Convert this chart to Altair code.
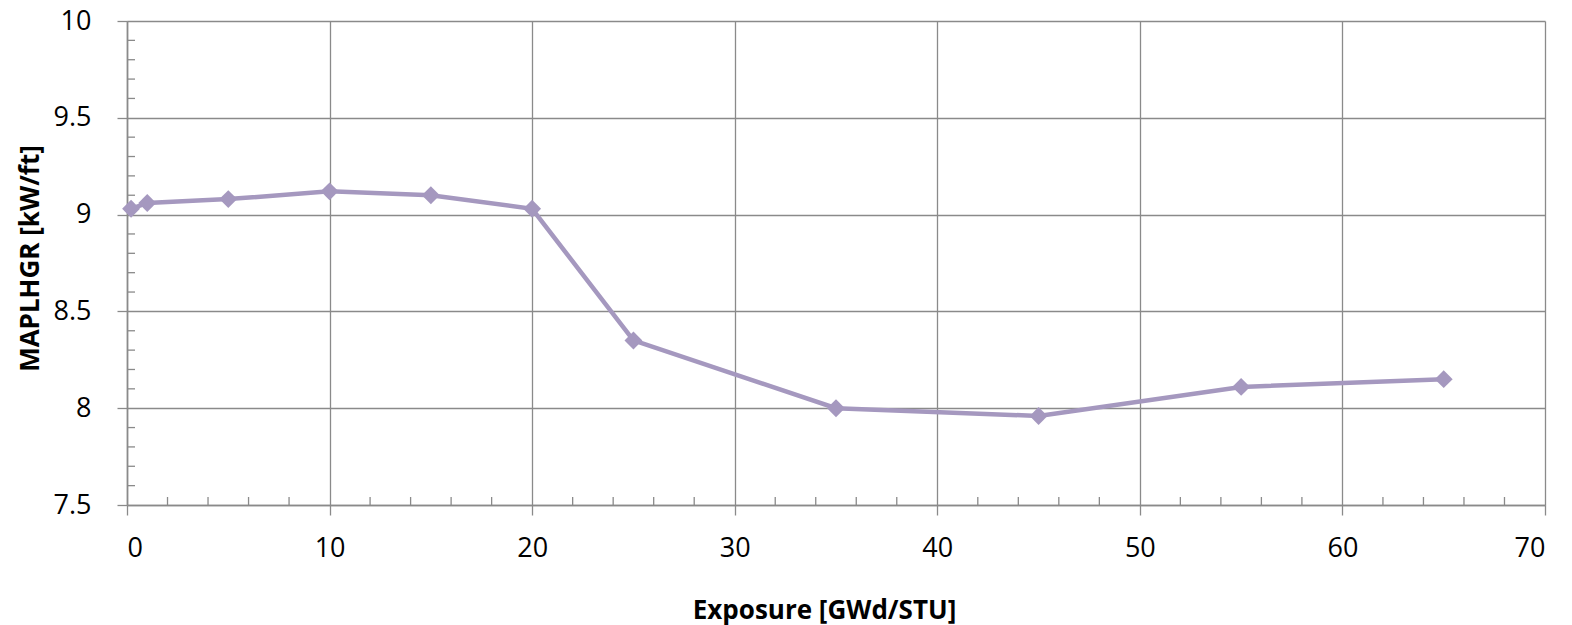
import altair as alt
import pandas as pd

# Data
exposure = [0.2, 1, 5, 10, 15, 20, 25, 35, 45, 55, 65]
maplhgr = [9.03, 9.06, 9.08, 9.12, 9.10, 9.03, 8.35, 8.00, 7.96, 8.11, 8.15]

x_major = [0, 10, 20, 30, 40, 50, 60, 70]
y_major = [7.5, 8, 8.5, 9, 9.5, 10]
x_minor = [2, 4, 6, 8, 12, 14, 16, 18, 22, 24, 26, 28, 32, 34, 36, 38,
           42, 44, 46, 48, 52, 54, 56, 58, 62, 64, 66, 68]
y_minor = [7.6, 7.7, 7.8, 7.9, 8.1, 8.2, 8.3, 8.4, 8.6, 8.7, 8.8, 8.9,
           9.1, 9.2, 9.3, 9.4, 9.6, 9.7, 9.8, 9.9]

W, H = 1418, 484
GRID = "#8a8a8a"
LINE = "#a598bf"
FONT = "Open Sans"

df = pd.DataFrame({"x": exposure, "y": maplhgr})
dfx = pd.DataFrame({"x": x_minor})
dfy = pd.DataFrame({"y": y_minor})

X = alt.X(
    "x:Q",
    scale=alt.Scale(domain=[0, 70], nice=False, zero=False),
    axis=alt.Axis(
        values=x_major, title="Exposure [GWd/STU]", format="d",
        grid=True, gridColor=GRID, gridWidth=1.3,
        domainColor=GRID, domainWidth=1.6,
        tickColor=GRID, tickWidth=1.3, tickSize=10,
        labelFont=FONT, labelFontSize=27, labelColor="black", labelPadding=20,
        titleFont=FONT, titleFontSize=26, titleFontWeight="bold", titleColor="black",
        titleX=697, titleY=105, titleBaseline="middle", titleAlign="center",
    ),
)
Y = alt.Y(
    "y:Q",
    scale=alt.Scale(domain=[7.5, 10], nice=False, zero=False),
    axis=alt.Axis(
        values=y_major, title="MAPLHGR [kW/ft]", format="~g",
        grid=True, gridColor=GRID, gridWidth=1.3,
        domainColor=GRID, domainWidth=1.6,
        tickColor=GRID, tickWidth=1.3, tickSize=10,
        labelFont=FONT, labelFontSize=27, labelColor="black", labelPadding=26,
        titleFont=FONT, titleFontSize=26, titleFontWeight="bold", titleColor="black",
        titleX=-97, titleY=237, titleBaseline="middle", titleAlign="center",
        titleAngle=270,
    ),
)

xminor = alt.Chart(dfx).mark_rule(color=GRID, strokeWidth=1.3).encode(
    x=X, y=alt.value(H - 8), y2=alt.value(H)
)
yminor = alt.Chart(dfy).mark_rule(color=GRID, strokeWidth=1.3).encode(
    y=Y, x=alt.value(0), x2=alt.value(8)
)
line = alt.Chart(df).mark_line(color=LINE, strokeWidth=4.5).encode(x=X, y=Y)
pts = alt.Chart(df).mark_point(
    shape="diamond", filled=True, size=320, color=LINE, opacity=1
).encode(x=X, y=Y)

chart = (
    alt.layer(xminor, yminor, line, pts)
    .properties(
        width=W, height=H,
        autosize=alt.AutoSizeParams(type="none"),
        padding={"left": 119, "top": 13, "right": 19, "bottom": 120},
        background="white",
    )
    .configure_view(strokeWidth=0)
)

chart.save("out.html", embed_options={"renderer": "svg", "actions": False})
